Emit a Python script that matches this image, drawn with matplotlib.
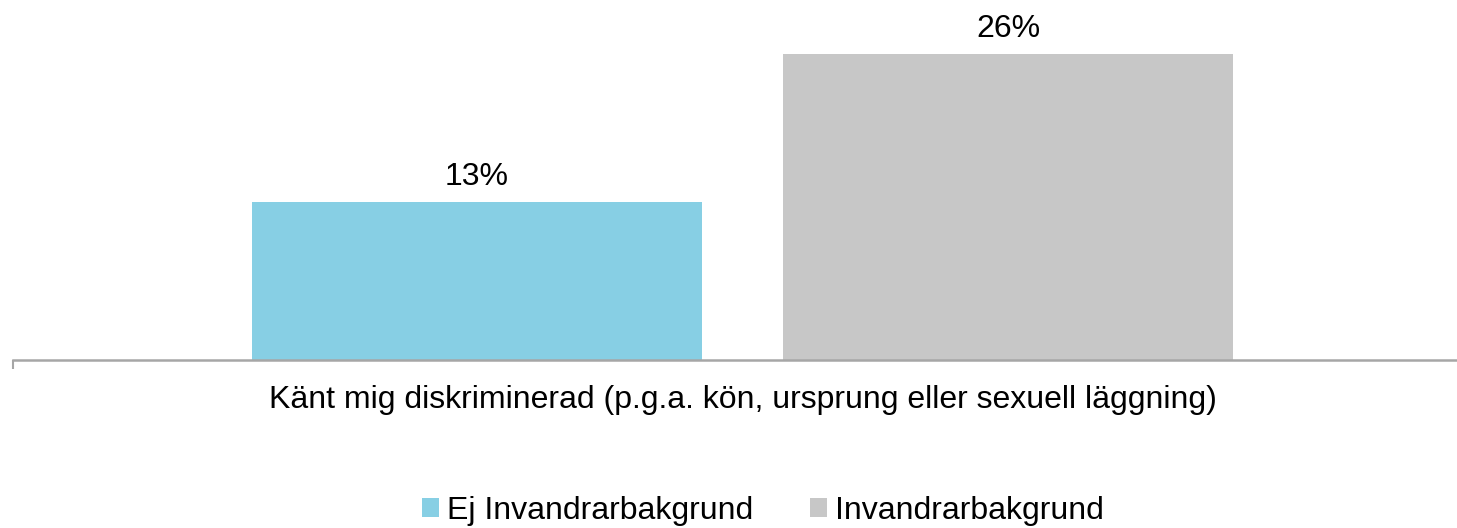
import matplotlib
matplotlib.use('Agg')
import matplotlib.pyplot as plt
from matplotlib.patches import Patch
import numpy as np

plt.rcParams['font.family'] = ['Liberation Sans', 'DejaVu Sans']

category = 'Känt mig diskriminerad (p.g.a. kön, ursprung eller sexuell läggning)'
series = ['Ej Invandrarbakgrund', 'Invandrarbakgrund']
values = [0.134, 0.259]
labels = ['13%', '26%']
colors = ['#87CFE4', '#C7C7C7']

W, H = 1457, 528
fig = plt.figure(figsize=(W / 100, H / 100), dpi=100)

# axes placed in pixels so the plot area runs off the right edge like the original
left, right = 13, 1472
bottom, top = 168, 6
ax = fig.add_axes([left / W, bottom / H, (right - left) / W, (H - bottom - top) / H])

offsets = [-0.182, 0.182]
bar_w = 0.308
for i, (v, lab, c) in enumerate(zip(values, labels, colors)):
    ax.bar(offsets[i], v, width=bar_w, color=c, label=series[i])
    ax.text(offsets[i], v + 0.0145, lab, ha='center', va='baseline', fontsize=23, color='#000000')

ax.set_xlim(-0.5, 0.5)
ax.set_ylim(0, 0.30)

for s in ['top', 'left', 'right']:
    ax.spines[s].set_visible(False)
ax.spines['bottom'].set_color('#A6A6A6')
ax.spines['bottom'].set_linewidth(1.8)

ax.set_yticks([])
ax.set_xticks([0])
ax.set_xticklabels([category], fontsize=23)
ax.tick_params(axis='x', which='major', length=0, pad=18)
ax.set_xticks([-0.5, 0.5], minor=True)
ax.tick_params(axis='x', which='minor', length=6.5, width=1.5, color='#A6A6A6')

handles = [Patch(facecolor=c, edgecolor='none') for c in colors]
fig.legend(handles, series, loc='center', bbox_to_anchor=(763 / W, 1 - 511 / H),
           ncol=2, frameon=False, fontsize=23, handlelength=0.53, handleheight=0.53,
           handletextpad=0.25, columnspacing=1.8, borderpad=0, borderaxespad=0)

fig.savefig('out.png', dpi=100)
